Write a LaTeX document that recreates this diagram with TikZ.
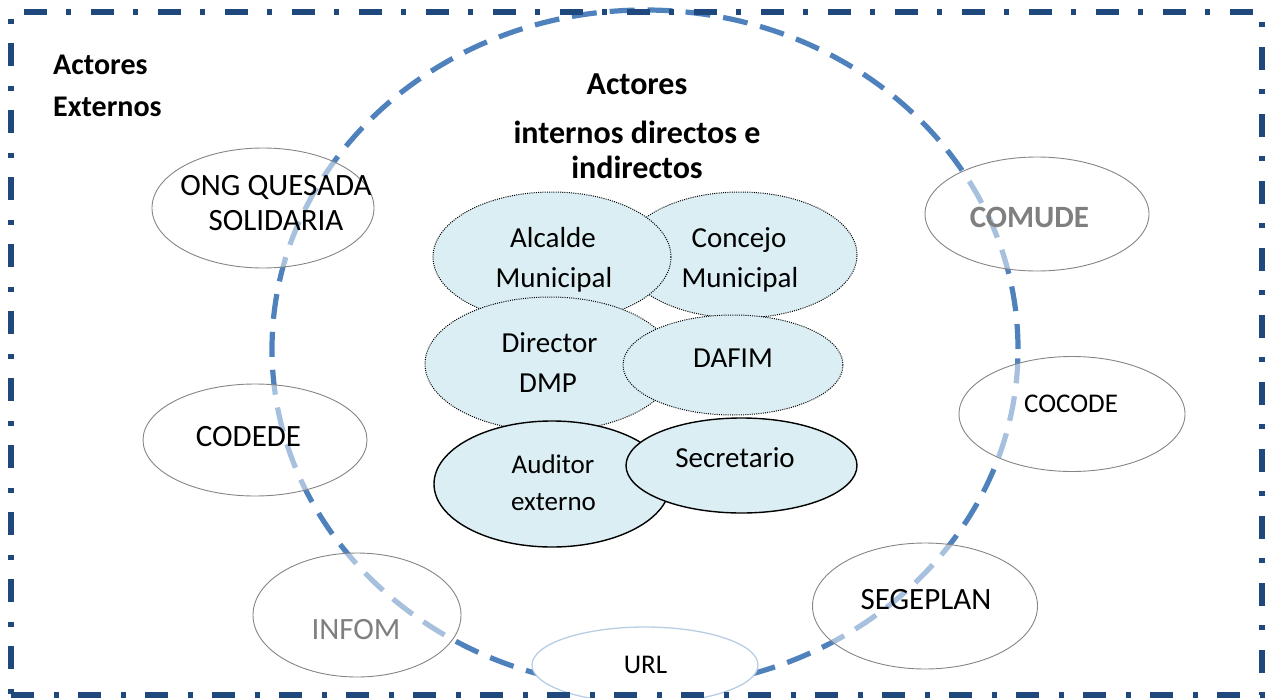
\documentclass[tikz,border=0pt]{standalone}
\usepackage{fontspec}
\setmainfont{Carlito}
\usetikzlibrary{shapes.geometric}
\definecolor{framecol}{HTML}{1F497D}
\definecolor{circcol}{HTML}{4F81BD}
\definecolor{innerfill}{HTML}{DAEEF3}
\definecolor{urlcol}{HTML}{B9CDE5}
\definecolor{txtgray}{HTML}{7F7F7F}
\begin{document}
\begin{tikzpicture}[x=1pt,y=-1pt,
  outerell/.style={ellipse, draw=black!48, line width=0.9pt, fill=white, fill opacity=0.5, inner sep=0pt},
  urlell/.style={ellipse, draw=urlcol, line width=1.3pt, fill=white, inner sep=0pt},
  innerdot/.style={ellipse, draw=black, line width=1pt, dash pattern=on 1pt off 1.2pt, fill=innerfill, inner sep=0pt},
  innersolid/.style={ellipse, draw=black, line width=1.4pt, fill=innerfill, inner sep=0pt},
  bigcirc/.style={ellipse, draw=circcol, line width=5.2pt, dash pattern=on 25pt off 13pt, inner sep=0pt},
  framebox/.style={rectangle, draw=framecol, line width=5.5pt, dash pattern=on 23pt off 20pt on 5pt off 19pt, inner sep=0pt},
  lbl/.style={anchor=base, inner sep=0pt, font=\fontsize{31}{37}\selectfont},
  lblmid/.style={anchor=base, inner sep=0pt, font=\fontsize{29}{35}\selectfont},
  lblsmall/.style={anchor=base, inner sep=0pt, font=\fontsize{27}{33}\selectfont},
  head/.style={anchor=base, inner sep=0pt, font=\fontsize{32}{38}\selectfont\bfseries},
  headleft/.style={anchor=base west, inner sep=0pt, font=\fontsize{30}{36}\selectfont\bfseries}
]
\useasboundingbox (0,0) rectangle (1265,698);

% big dashed circle
\node[bigcirc, minimum width=746pt, minimum height=678pt] (circ) at (645,349) {};

% external actors
\node[outerell, minimum width=222pt, minimum height=120pt] (ong) at (263,208) {};
\node[outerell, minimum width=224pt, minimum height=112pt] (codede) at (255,440) {};
\node[outerell, minimum width=208pt, minimum height=124pt] (infom) at (357,615) {};
\node[urlell, minimum width=226pt, minimum height=76pt] (url) at (645,665) {};
\node[outerell, minimum width=225pt, minimum height=126pt] (segeplan) at (925,606) {};
\node[outerell, minimum width=224pt, minimum height=114pt] (comude) at (1037,214) {};
\node[outerell, minimum width=226pt, minimum height=115pt] (cocode) at (1072,414) {};

% internal actors
\node[innerdot, minimum width=234pt, minimum height=126pt] (concejo) at (740,255) {};
\node[innerdot, minimum width=238pt, minimum height=130pt] (alcalde) at (552,257) {};
\node[innerdot, minimum width=250pt, minimum height=134pt] (director) at (550,364) {};
\node[innerdot, minimum width=220pt, minimum height=100pt] (dafim) at (733,365) {};
\node[innersolid, minimum width=236pt, minimum height=126pt] (auditor) at (552,484) {};
\node[innersolid, minimum width=231pt, minimum height=95pt] (secretario) at (741.5,465.5) {};

% labels
\node[headleft] (hl1) at (53,75) {Actores};
\node[headleft] (hl2) at (53,117) {Externos};
\node[head] (hc1) at (637,95) {Actores};
\node[head] (hc2) at (637,143) {internos directos e};
\node[head] (hc3) at (637,178) {indirectos};

\node[lbl] (tong1) at (276,195) {ONG QUESADA};
\node[lbl] (tong2) at (276,230) {SOLIDARIA};
\node[lbl] (tcodede) at (248.5,446) {CODEDE};
\node[lbl, text=txtgray] (tinfom) at (356,639) {INFOM};
\node[lblsmall] (turl) at (645.5,673) {URL};
\node[lbl] (tsegeplan) at (926,609) {SEGEPLAN};
\node[lbl, text=txtgray, font=\fontsize{31}{37}\selectfont\bfseries] (tcomude) at (1029.5,227) {COMUDE};
\node[lblsmall] (tcocode) at (1071,412) {COCODE};

\node[lblmid] (tal1) at (553,247) {Alcalde};
\node[lblmid] (tal2) at (554,287) {Municipal};
\node[lblmid] (tco1) at (739,247) {Concejo};
\node[lblmid] (tco2) at (740,287) {Municipal};
\node[lblmid] (tdi1) at (549.5,352) {Director};
\node[lblmid] (tdi2) at (548,392) {DMP};
\node[lblmid] (tdaf) at (733,367) {DAFIM};
\node[lblsmall] (tau1) at (553,473) {Auditor};
\node[lblsmall] (tau2) at (553.5,510) {externo};
\node[lblmid] (tsec) at (735,467) {Secretario};

% outer frame
\node[framebox, minimum width=1251pt, minimum height=683pt] (frame) at (636.5,353.5) {};
\end{tikzpicture}
\end{document}
